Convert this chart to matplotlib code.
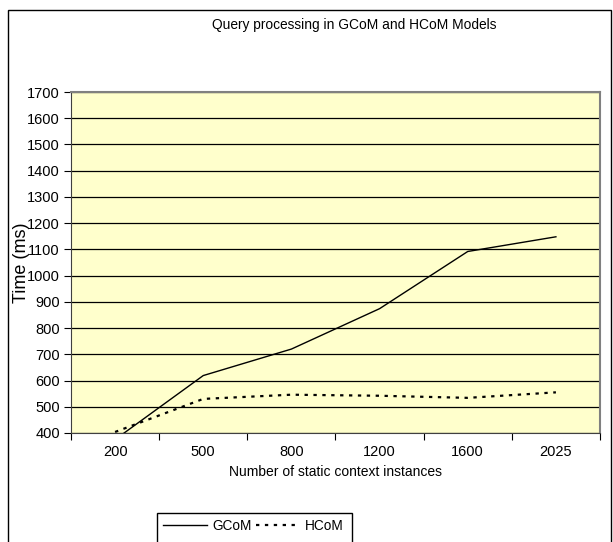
import matplotlib
matplotlib.use("Agg")
import matplotlib.pyplot as plt
from matplotlib.patches import Rectangle
import numpy as np

plt.rcParams['font.family'] = ['Liberation Sans', 'DejaVu Sans']

categories = ["200", "500", "800", "1200", "1600", "2025"]
gcom = [375, 619, 720, 874, 1092, 1148]
hcom = [404, 530, 546, 542, 534, 555]
y_ticks = list(range(400, 1701, 100))

W, H = 613, 542
fig = plt.figure(figsize=(W / 100, H / 100), dpi=100)
fig.patch.set_facecolor("white")

# outer chart frame (open at bottom)
fig.add_artist(Rectangle((8 / W, -0.05), (611 - 8) / W, 1.05 - 10 / H,
                         transform=fig.transFigure, fill=False,
                         edgecolor="black", lw=1.0))

left, right, top, bottom = 71, 600, 92, 433
ax = fig.add_axes([left / W, 1 - bottom / H, (right - left) / W, (bottom - top) / H])
ax.set_facecolor("#FFFFCC")

x = np.arange(len(categories))
ax.plot(x, gcom, color="black", lw=1.0, label="GCoM")
ax.plot(x, hcom, color="black", lw=1.6, linestyle=(0, (1.5, 2.5)), label="HCoM")

ax.set_xlim(-0.5, len(categories) - 0.5)
ax.set_ylim(400, 1700)
ax.set_yticks(y_ticks)
ax.yaxis.grid(True, color="black", lw=0.9)
ax.set_axisbelow(True)
ax.tick_params(axis="y", direction="out", length=5, width=0.8, labelsize=10.5, pad=3)

ax.set_xticks(np.arange(-0.5, len(categories), 1))
ax.set_xticklabels([])
ax.tick_params(axis="x", which="major", direction="out", length=5, width=0.8)
ax.set_xticks(x, minor=True)
ax.set_xticklabels(categories, minor=True)
ax.tick_params(axis="x", which="minor", length=0, labelsize=10.5, pad=9)

for s in ["top", "right"]:
    ax.spines[s].set_color("#808080")
    ax.spines[s].set_linewidth(1.5)
ax.spines["left"].set_color("#404040")
ax.spines["bottom"].set_color("#404040")

ax.set_xlabel("Number of static context instances", fontsize=10, labelpad=4)
ax.set_ylabel("Time (ms)", fontsize=13, labelpad=-2)

fig.text(354 / W, 1 - 25 / H, "Query processing in GCoM and HCoM Models",
         ha="center", va="center", fontsize=9.9)

leg = fig.legend(loc="upper left", bbox_to_anchor=(157 / W, 1 - 513 / H),
                 ncol=2, fontsize=9.8, frameon=False,
                 handlelength=3.2, handletextpad=0.4, columnspacing=0.3,
                 borderpad=0.45, borderaxespad=0)

# legend frame, extending past the bottom edge as in the reference
fig.add_artist(Rectangle((157 / W, -0.05), (352 - 157) / W, 1.05 - 513 / H,
                         transform=fig.transFigure, fill=False,
                         edgecolor="black", lw=1.0))

fig.savefig("out.png", dpi=100)
